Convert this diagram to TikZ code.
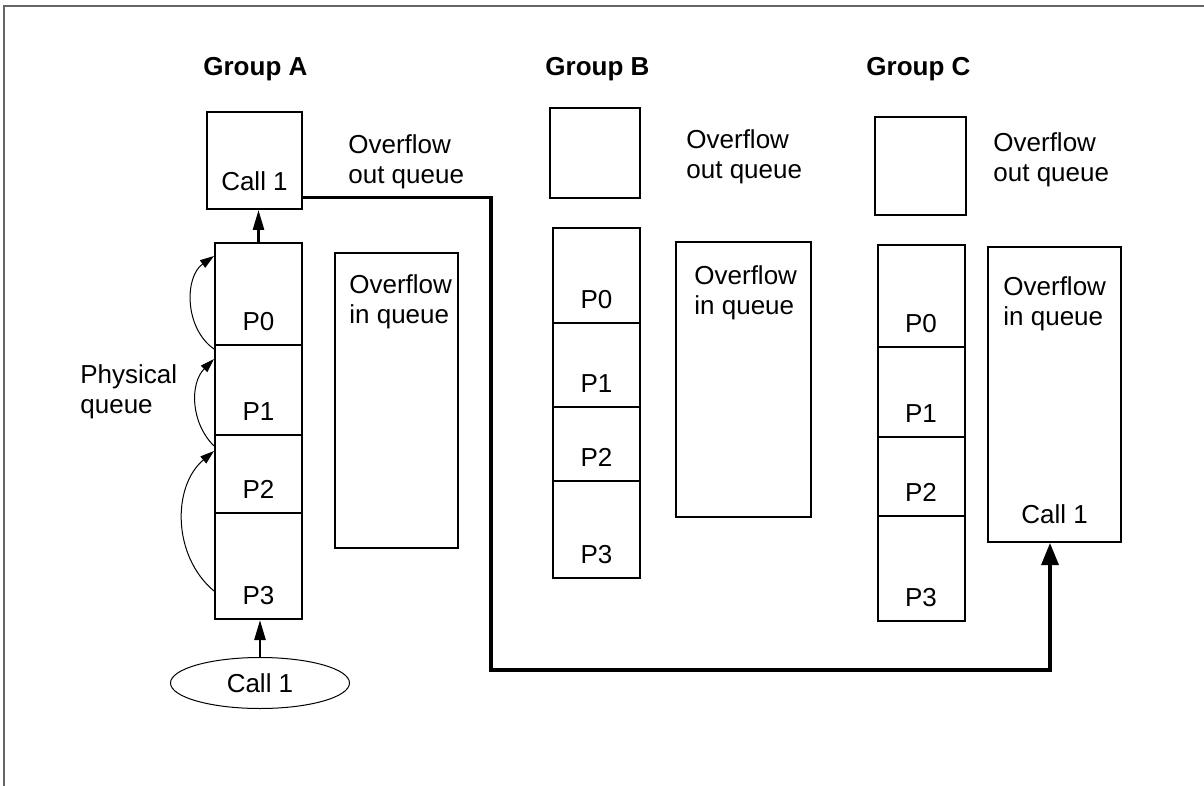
\documentclass[tikz,border=0pt]{standalone}
\usepackage{fontspec}
\setmainfont{Liberation Sans}
\usetikzlibrary{arrows.meta,shapes.geometric}
\begin{document}
\begin{tikzpicture}[x=0.5pt,y=-0.5pt,
	every node/.style={font=\fontsize{13pt}{15pt}\selectfont},
	box/.style={draw,line width=1pt,rectangle,inner sep=0pt},
	cell/.style={box,minimum width=43.5pt},
	txt/.style={inner sep=0pt,anchor=north west,align=left},
	title/.style={inner sep=0pt,anchor=base west,font=\fontsize{13pt}{15pt}\selectfont\bfseries},
	plab/.style={anchor=south,inner sep=0pt,yshift=7.5pt},
	clab/.style={anchor=south,inner sep=0pt,yshift=9.3pt},
	push/.style={line width=1.3pt,-{Triangle[width=5.5pt,length=10pt]}},
	flow/.style={line width=1.6pt,-{Triangle[width=8.5pt,length=11pt]}},
	hop/.style={line width=0.5pt,-{Triangle[width=4.5pt,length=7pt]},bend left=#1},
	hop/.default=50]
	\useasboundingbox (0,0) rectangle (1204,786);
	\draw [black!60,line width=0.8pt] (1204,6) -- (4,6) -- (4,786);
	% titles
	\node [title] (tA) at (203,76) {Group A};
	\node [title] (tB) at (545,76) {Group B};
	\node [title] (tC) at (866,76) {Group C};
	% group A
	\node [box,minimum width=47.5pt,minimum height=48.5pt,label={[clab]south:Call 1}] (Aout) at (254.5,160.5) {};
	\node [txt] (AoutT) at (348,134) {Overflow\\out queue};
	\node [cell,minimum height=51pt,label={[plab]south:P0}] (A0) at (258.5,294) {};
	\node [cell,minimum height=45pt,label={[plab]south:P1}] (A1) at (258.5,390) {};
	\node [cell,minimum height=39pt,label={[plab]south:P2}] (A2) at (258.5,474) {};
	\node [cell,minimum height=53pt,label={[plab]south:P3}] (A3) at (258.5,566) {};
	\node [box,minimum width=61.5pt,minimum height=147.5pt] (Ain) at (396.5,400.5) {};
	\node [txt] (AinT) at (349,274) {Overflow\\in queue};
	\node [txt] (phys) at (80,364) {Physical\\queue};
	\node [ellipse,draw,line width=0.5pt,inner sep=0pt,minimum width=89.5pt,minimum height=25.5pt] (call) at (260,683) {Call 1};
	% group B
	\node [box,minimum width=45pt,minimum height=45pt] (Bout) at (595,153) {};
	\node [txt] (BoutT) at (686,129) {Overflow\\out queue};
	\node [cell,minimum height=47.5pt,label={[plab]south:P0}] (B0) at (596.5,275.5) {};
	\node [cell,minimum height=42pt,label={[plab]south:P1}] (B1) at (596.5,365) {};
	\node [cell,minimum height=37pt,label={[plab]south:P2}] (B2) at (596.5,444) {};
	\node [cell,minimum height=48.5pt,label={[plab]south:P3}] (B3) at (596.5,529.5) {};
	\node [box,minimum width=67.5pt,minimum height=137.5pt] (Bin) at (743.5,379.5) {};
	\node [txt] (BinT) at (694,265) {Overflow\\in queue};
	% group C
	\node [box,minimum width=45.5pt,minimum height=49pt] (Cout) at (920,166) {};
	\node [txt] (CoutT) at (993,132) {Overflow\\out queue};
	\node [cell,minimum height=51pt,label={[plab]south:P0}] (C0) at (921,296) {};
	\node [cell,minimum height=45pt,label={[plab]south:P1}] (C1) at (921,392) {};
	\node [cell,minimum height=39.5pt,label={[plab]south:P2}] (C2) at (921,476.5) {};
	\node [cell,minimum height=52.5pt,label={[plab]south:P3}] (C3) at (921,568.5) {};
	\node [box,minimum width=66.5pt,minimum height=147.5pt,label={[clab]south:Call 1}] (Cin) at (1054.5,394.5) {};
	\node [txt] (CinT) at (1003,276) {Overflow\\in queue};
	% connectors
	\draw [push] (call.north) -- (call.north |- A3.south);
	\draw [push] (A0.north) -- (A0.north |- Aout.south);
	\draw [hop=50] ([yshift=14.5pt]A3.south west) to ([yshift=-8.5pt]A2.north west);
	\draw [hop=45] ([yshift=-6pt]A2.north west) to ([yshift=-7.5pt]A1.north west);
	\draw [hop=55] ([yshift=-2.5pt]A1.north west) to ([yshift=-7pt]A0.north west);
	\coordinate (turn) at (491,670);
	\draw [flow] ([yshift=6.25pt]Aout.south east) -| (turn) -| ([xshift=-2.25pt]Cin.south);
\end{tikzpicture}
\end{document}
